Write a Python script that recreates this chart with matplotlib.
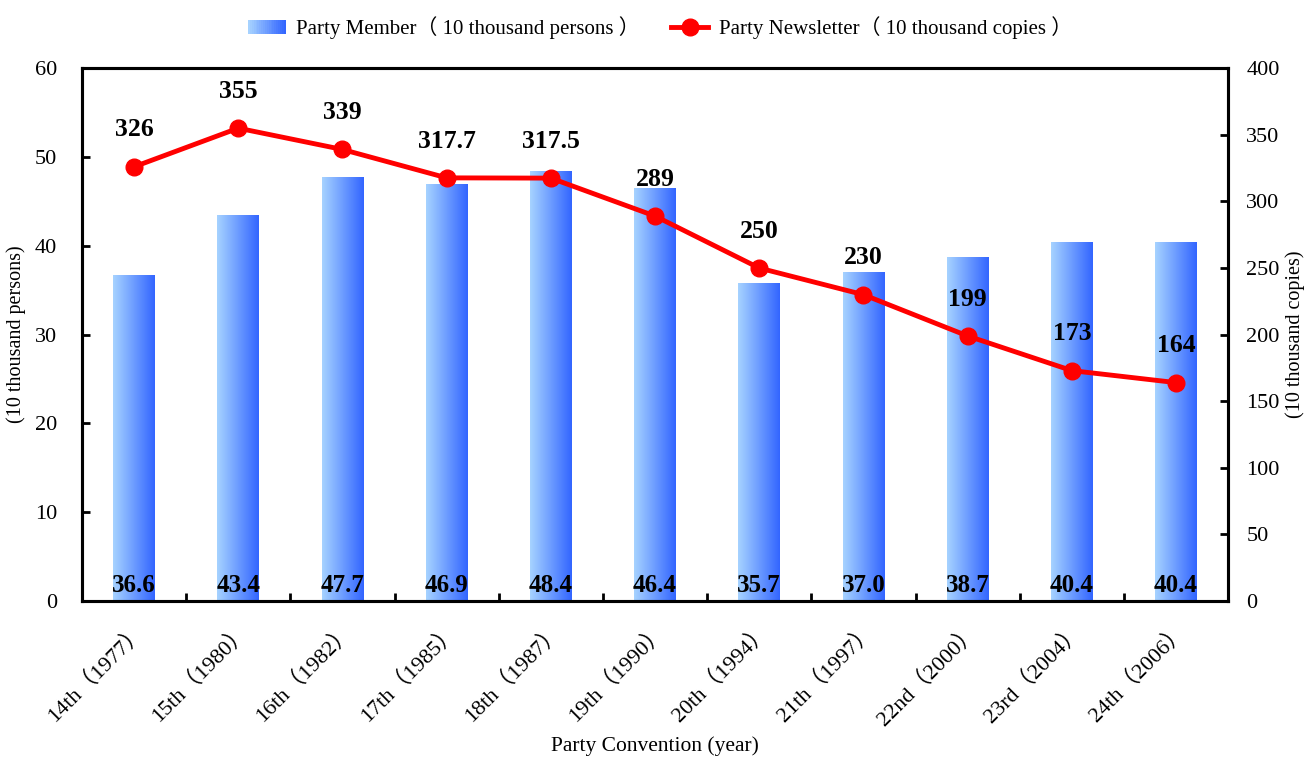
import numpy as np
import matplotlib.pyplot as plt
from matplotlib.patches import Rectangle
from matplotlib.lines import Line2D
from matplotlib.legend_handler import HandlerBase
from matplotlib.colors import LinearSegmentedColormap

plt.rcParams['font.family'] = ['Liberation Serif', 'Noto Sans CJK SC']

# data
conventions = ['14th（1977）', '15th（1980）', '16th（1982）', '17th（1985）', '18th（1987）',
               '19th（1990）', '20th（1994）', '21th（1997）', '22nd（2000）', '23rd（2004）',
               '24th（2006）']
members = [36.6, 43.4, 47.7, 46.9, 48.4, 46.4, 35.7, 37.0, 38.7, 40.4, 40.4]
newsletter = [326, 355, 339, 317.7, 317.5, 289, 250, 230, 199, 173, 164]
news_labels = ['326', '355', '339', '317.7', '317.5', '289', '250', '230', '199', '173', '164']

cmap = LinearSegmentedColormap.from_list('bar', ['#a6d2ff', '#3366ff'])
grad = np.linspace(0, 1, 64).reshape(1, -1)

fig = plt.figure(figsize=(13.07, 7.58), dpi=100)
ax = fig.add_axes([0.0627, 0.207, 0.877, 0.703])
ax2 = ax.twinx()

x = np.arange(len(conventions))
w = 0.4
for xi, v in zip(x, members):
    ax.imshow(grad, cmap=cmap, aspect='auto', extent=[xi - w / 2, xi + w / 2, 0, v], zorder=2)
    ax.text(xi, 0.5, f'{v:.1f}', ha='center', va='bottom', fontsize=18, fontweight='bold', zorder=5)

ax.set_xlim(-0.5, len(conventions) - 0.5)
ax.set_ylim(0, 60)
ax.set_yticks(np.arange(0, 61, 10))
ax.set_xticks(np.arange(0.5, len(conventions) - 0.5, 1))
ax.set_xticklabels([])
ax.set_xticks(x, minor=True)
ax.set_xticklabels(conventions, minor=True, rotation=45, ha='right', rotation_mode='anchor', fontsize=16)
ax.tick_params(axis='x', which='minor', length=0, pad=14)
ax.tick_params(axis='x', which='major', direction='in', length=6, width=2)
ax.tick_params(axis='y', direction='in', length=6, width=2, labelsize=16, pad=18)
ax.set_ylabel('(10 thousand persons)', fontsize=14.5, labelpad=6)
ax.set_xlabel('Party Convention (year)', fontsize=15.5, labelpad=5)

ax2.plot(x, newsletter, color='#ff0000', lw=3.5, marker='o', ms=12, zorder=4)
for xi, v, s in zip(x, newsletter, news_labels):
    ax2.text(xi, v + 19, s, ha='center', va='bottom', fontsize=18.5, fontweight='bold')
ax2.set_ylim(0, 400)
ax2.set_yticks(np.arange(0, 401, 50))
ax2.tick_params(axis='y', direction='in', length=6, width=2, labelsize=16, pad=13)
ax2.set_ylabel('(10 thousand copies)', fontsize=14.5, labelpad=4)

for a in (ax, ax2):
    for sp in a.spines.values():
        sp.set_linewidth(2.2)


class GradientHandler(HandlerBase):
    def create_artists(self, legend, orig_handle, xdescent, ydescent, width, height, fontsize, trans):
        n = 20
        arts = []
        for i in range(n):
            r = Rectangle((-xdescent + width * i / n, -ydescent), width / n + 0.3, height,
                          facecolor=cmap(i / (n - 1)), edgecolor='none', transform=trans)
            arts.append(r)
        return arts


bar_handle = Rectangle((0, 0), 1, 1)
line_handle = Line2D([], [], color='#ff0000', lw=3.5, marker='o', ms=12)
fig.legend([bar_handle, line_handle],
           ['Party Member（ 10 thousand persons ）', 'Party Newsletter（ 10 thousand copies ）'],
           handler_map={Rectangle: GradientHandler()},
           loc='center', bbox_to_anchor=(0.505, 0.963), ncol=2, frameon=False,
           fontsize=15, handlelength=1.8, columnspacing=1.5, handletextpad=0.5)

fig.savefig('out.png', dpi=100)
